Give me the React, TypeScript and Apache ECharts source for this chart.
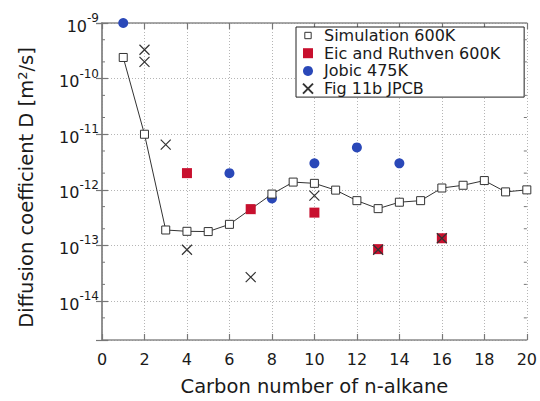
import React, { useEffect, useRef } from 'react';
import * as echarts from 'echarts';

const carbonNumbers = [1, 2, 3, 4, 5, 6, 7, 8, 9, 10, 11, 12, 13, 14, 15, 16, 17, 18, 19, 20];
const simulation600K = [
  2.4e-10, 1.0e-11, 1.9e-13, 1.8e-13, 1.78e-13, 2.4e-13, 4.5e-13, 8.4e-13, 1.38e-12, 1.31e-12,
  9.9e-13, 6.4e-13, 4.6e-13, 6.0e-13, 6.4e-13, 1.08e-12, 1.21e-12, 1.47e-12, 9.2e-13, 1.0e-12,
];
const eicX = [4, 7, 10, 13, 16];
const eicD = [2.0e-12, 4.5e-13, 3.9e-13, 8.6e-14, 1.35e-13];
const jobicX = [1, 6, 8, 10, 12, 14];
const jobicD = [1.0e-9, 2.0e-12, 7.0e-13, 3.0e-12, 5.8e-12, 3.0e-12];
const jpcbX = [2, 2, 3, 4, 7, 10, 13, 16];
const jpcbD = [3.3e-10, 2.0e-10, 6.5e-12, 8.4e-14, 2.7e-14, 7.9e-13, 8.4e-14, 1.35e-13];

const xMin = 0;
const xMax = 20;
const xInterval = 2;
const yMin = 2e-15;
const yMax = 1e-9;
const minorTickValues = [5e-15, 2e-14, 5e-14, 2e-13, 5e-13, 2e-12, 5e-12, 2e-11, 5e-11, 2e-10, 5e-10];

const seriesNames = ['Simulation 600K', 'Eic and Ruthven 600K', 'Jobic 475K', 'Fig 11b JPCB'];

const FONT = 'DejaVu Sans';
const TEXT = '#1a1a1a';
const FRAME = '#8a8a8a';
const RED = '#c8102e';
const BLUE = '#2a48b8';
const CROSS = 'path://M0,0L10,10M10,0L0,10';
const SQUARE = 'path://M0,0L10,0L10,10L0,10Z';

const zip = (xs: number[], ys: number[]) => xs.map((x, i) => [x, ys[i]]);

export default function App() {
  const ref = useRef<HTMLDivElement>(null);
  useEffect(() => {
    if (!ref.current) return;
    const chart = echarts.init(ref.current, undefined, { renderer: 'svg' });
    const axisLine = { show: true, lineStyle: { color: FRAME, width: 1.5 } };
    const splitLine = { show: true, lineStyle: { color: '#b5b5b5', width: 1, type: [1, 2] as any } };
    const tick = { show: true, inside: true, length: 6, lineStyle: { color: '#777', width: 1.2 } };
    const yLabel = (v: number) => {
      const e = Math.log10(v);
      if (Math.abs(e - Math.round(e)) > 0.01) return '';
      return `{b|10}{s|${Math.round(e)}}`;
    };
    chart.setOption({
      animation: false,
      backgroundColor: '#ffffff',
      textStyle: { fontFamily: FONT },
      grid: { left: 102, right: 13, top: 23, bottom: 53, containLabel: false },
      legend: {
        orient: 'vertical',
        left: 296,
        top: 27,
        padding: [0, 24, 0, 6],
        itemWidth: 22,
        itemHeight: 10,
        itemGap: 0.7,
        backgroundColor: '#ffffff',
        borderColor: '#222',
        borderWidth: 1,
        borderRadius: 0,
        textStyle: { fontFamily: FONT, fontSize: 16, color: TEXT, lineHeight: 17 },
        data: [
          {
            name: seriesNames[0],
            icon: 'path://M-2,-2M0,0L7,0L7,7L0,7ZM9,9',
            itemStyle: { color: '#ffffff', borderColor: '#333', borderWidth: 1 },
          },
          { name: seriesNames[1], icon: SQUARE, itemStyle: { color: RED, opacity: 1 } },
          { name: seriesNames[2], icon: 'circle', itemStyle: { color: BLUE, opacity: 1 } },
          { name: seriesNames[3], icon: CROSS },
        ],
      },
      xAxis: [
        {
          type: 'value',
          min: xMin,
          max: xMax,
          interval: xInterval,
          position: 'bottom',
          axisLine,
          axisTick: tick,
          axisLabel: { fontFamily: FONT, fontSize: 16, color: TEXT, margin: 11 },
          splitLine,
          name: 'Carbon number of n-alkane',
          nameLocation: 'middle',
          nameGap: 36,
          nameTextStyle: { fontFamily: FONT, fontSize: 19.5, color: TEXT },
        },
        {
          type: 'value',
          min: xMin,
          max: xMax,
          interval: xInterval,
          position: 'top',
          axisLine,
          axisTick: tick,
          axisLabel: { show: false },
          splitLine: { show: false },
        },
      ],
      yAxis: [
        {
          type: 'log',
          logBase: 10,
          min: yMin,
          max: yMax,
          position: 'left',
          axisLine,
          axisTick: tick,
          axisLabel: {
            formatter: yLabel,
            margin: 3,
            color: TEXT,
            rich: {
              b: { fontFamily: FONT, fontSize: 16, color: TEXT, lineHeight: 22, verticalAlign: 'bottom' },
              s: { fontFamily: FONT, fontSize: 12, color: TEXT, lineHeight: 13, verticalAlign: 'top' },
            },
          },
          splitLine,
          name: 'Diffusion coefficient D [m{sup|2}/s]',
          nameLocation: 'middle',
          nameGap: 66,
          nameTextStyle: {
            fontFamily: FONT,
            fontSize: 19.5,
            color: TEXT,
            padding: [0, 12, 0, 0],
            rich: {
              sup: { fontFamily: FONT, fontSize: 13, color: TEXT, lineHeight: 14, verticalAlign: 'top' },
            },
          },
        },
        {
          type: 'log',
          logBase: 10,
          min: yMin,
          max: yMax,
          position: 'right',
          axisLine,
          axisTick: tick,
          axisLabel: { show: false },
          splitLine: { show: false },
        },
      ],
      series: [
        {
          name: seriesNames[2],
          type: 'scatter',
          data: zip(jobicX, jobicD),
          symbol: 'circle',
          symbolSize: 10,
          itemStyle: { color: BLUE, opacity: 1 },
          clip: false,
          z: 2,
        },
        {
          name: seriesNames[0],
          type: 'line',
          data: zip(carbonNumbers, simulation600K),
          symbol: 'rect',
          symbolSize: 8,
          showAllSymbol: true,
          lineStyle: { color: '#333', width: 1 },
          itemStyle: { color: '#ffffff', borderColor: '#333', borderWidth: 1 },
          z: 3,
        },
        {
          name: seriesNames[1],
          type: 'scatter',
          data: zip(eicX, eicD),
          symbol: 'rect',
          symbolSize: 10,
          itemStyle: { color: RED, opacity: 1 },
          clip: false,
          z: 4,
        },
        {
          name: seriesNames[3],
          type: 'scatter',
          data: zip(jpcbX, jpcbD),
          symbol: CROSS,
          symbolSize: 10,
          itemStyle: { color: '#333', borderColor: '#333', borderWidth: 1.2, opacity: 1 },
          clip: false,
          z: 5,
        },
        {
          type: 'custom',
          silent: true,
          clip: false,
          z: 6,
          data: minorTickValues.map((v) => [xMin, v]),
          renderItem: (params: any, api: any) => {
            const cs = params.coordSys;
            const p = api.coord([api.value(0), api.value(1)]);
            const y = p[1];
            const style = { stroke: '#777', lineWidth: 1 };
            return {
              type: 'group',
              children: [
                { type: 'line', shape: { x1: cs.x, y1: y, x2: cs.x + 3, y2: y }, style },
                { type: 'line', shape: { x1: cs.x + cs.width - 3, y1: y, x2: cs.x + cs.width, y2: y }, style },
              ],
            };
          },
        },
      ],
    });
    return () => chart.dispose();
  }, []);
  return <div ref={ref} style={{ position: 'fixed', left: 0, top: 0, width: 540, height: 401 }} />;
}
